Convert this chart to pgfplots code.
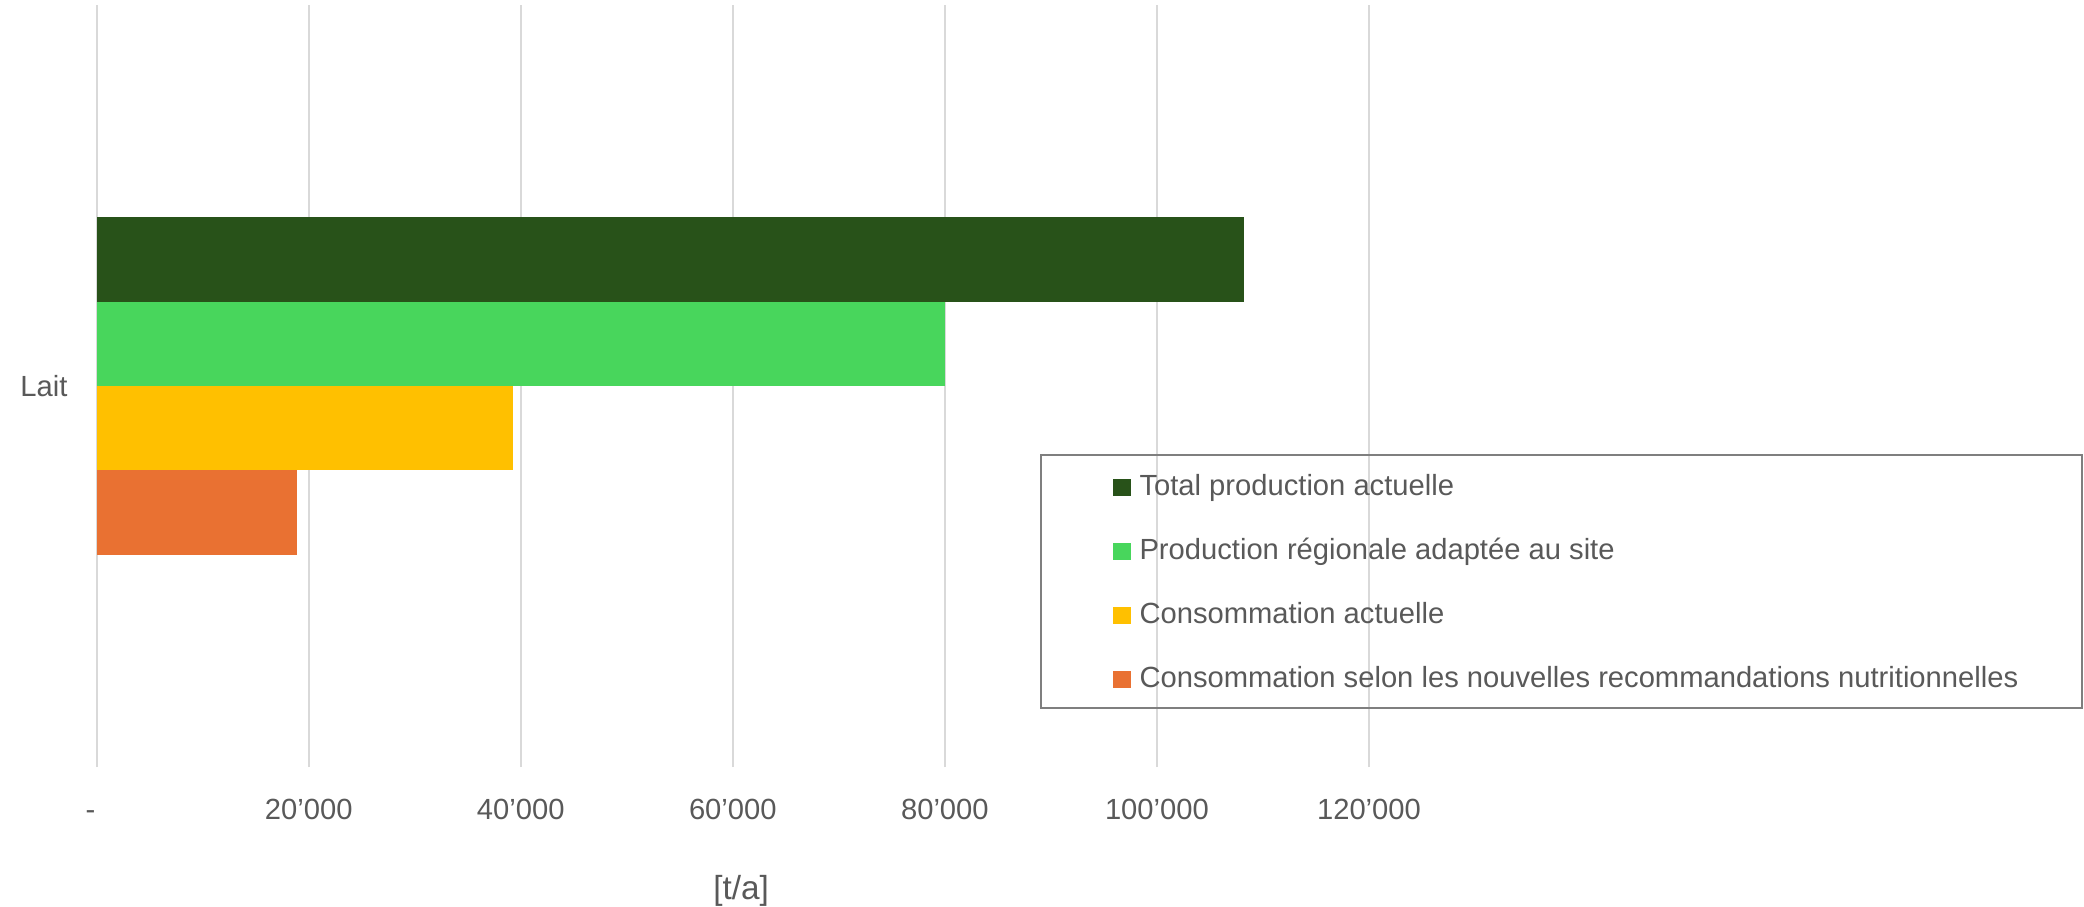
\documentclass[border=0pt]{standalone}
\usepackage{fontspec}
\setmainfont{Liberation Sans}
\usepackage{pgfplots}
\pgfplotsset{compat=1.18}

\definecolor{txt}{HTML}{595959}
\definecolor{gridc}{HTML}{D9D9D9}
\definecolor{framec}{HTML}{7F7F7F}
\definecolor{totprod}{HTML}{285219}
\definecolor{regprod}{HTML}{48D65C}
\definecolor{consact}{HTML}{FFC000}
\definecolor{consrec}{HTML}{E97132}

\begin{document}
\begin{tikzpicture}
\begin{axis}[
  scale only axis,
  width=458pt, height=274.3pt,
  xbar, bar width=30.4pt,
  xmin=0, xmax=120000, ymin=-0.5, ymax=0.5,
  scaled x ticks=false,
  axis line style={draw=none},
  tick style={draw=none},
  xtick={0,20000,40000,60000,80000,100000,120000},
  xticklabels={{\makebox[7.9pt][l]{-}},{20’000},{40’000},{60’000},{80’000},{100’000},{120’000}},
  ytick={0}, yticklabels={Lait},
  xmajorgrids, grid style={gridc, line width=0.6pt},
  ticklabel style={font=\fontsize{10.5}{12}\selectfont, text=txt},
  xticklabel style={anchor=base, yshift=-18.8pt},
  yticklabel style={anchor=east, xshift=-2.7pt},
  xlabel={[t/a]},
  xlabel style={at={(axis description cs:0.5,0)}, anchor=base, yshift=-47.6pt, xshift=3pt,
    font=\fontsize{12}{14}\selectfont, text=txt},
  legend style={at={(axis description cs:0.7987,0.3843)}, anchor=north west,
    draw=none, fill=none, inner sep=0pt, row sep=13pt, column sep=2.9pt,
    font=\fontsize{10.5}{12}\selectfont, text=txt,
    nodes={inner sep=0pt, text height=7.5pt, text depth=2.5pt, anchor=base west}},
  legend image code/.code={\fill[#1] (0pt,-0.2pt) rectangle (6.5pt,6pt);},
]
\addplot[fill=totprod, draw=none, bar shift=45.6pt] coordinates {(108200,0)};
\addlegendentry{Total production actuelle}
\addplot[fill=regprod, draw=none, bar shift=15.2pt] coordinates {(80000,0)};
\addlegendentry{Production régionale adaptée au site}
\addplot[fill=consact, draw=none, bar shift=-15.2pt] coordinates {(39300,0)};
\addlegendentry{Consommation actuelle}
\addplot[fill=consrec, draw=none, bar shift=-45.6pt] coordinates {(18900,0)};
\addlegendentry{Consommation selon les nouvelles recommandations nutritionnelles}
\coordinate (pnw) at (rel axis cs:0,1);
\coordinate (pse) at (rel axis cs:1,0);
\end{axis}
% legend frame
\draw[framec, line width=0.6pt] ([xshift=339.9pt,yshift=-162pt]pnw) rectangle ([xshift=714.7pt,yshift=-253.1pt]pnw);
\pgfresetboundingbox
\path ([xshift=-34.8pt,yshift=1.8pt]pnw) rectangle ([xshift=257.4pt,yshift=-50.04pt]pse);
\end{tikzpicture}
\end{document}
